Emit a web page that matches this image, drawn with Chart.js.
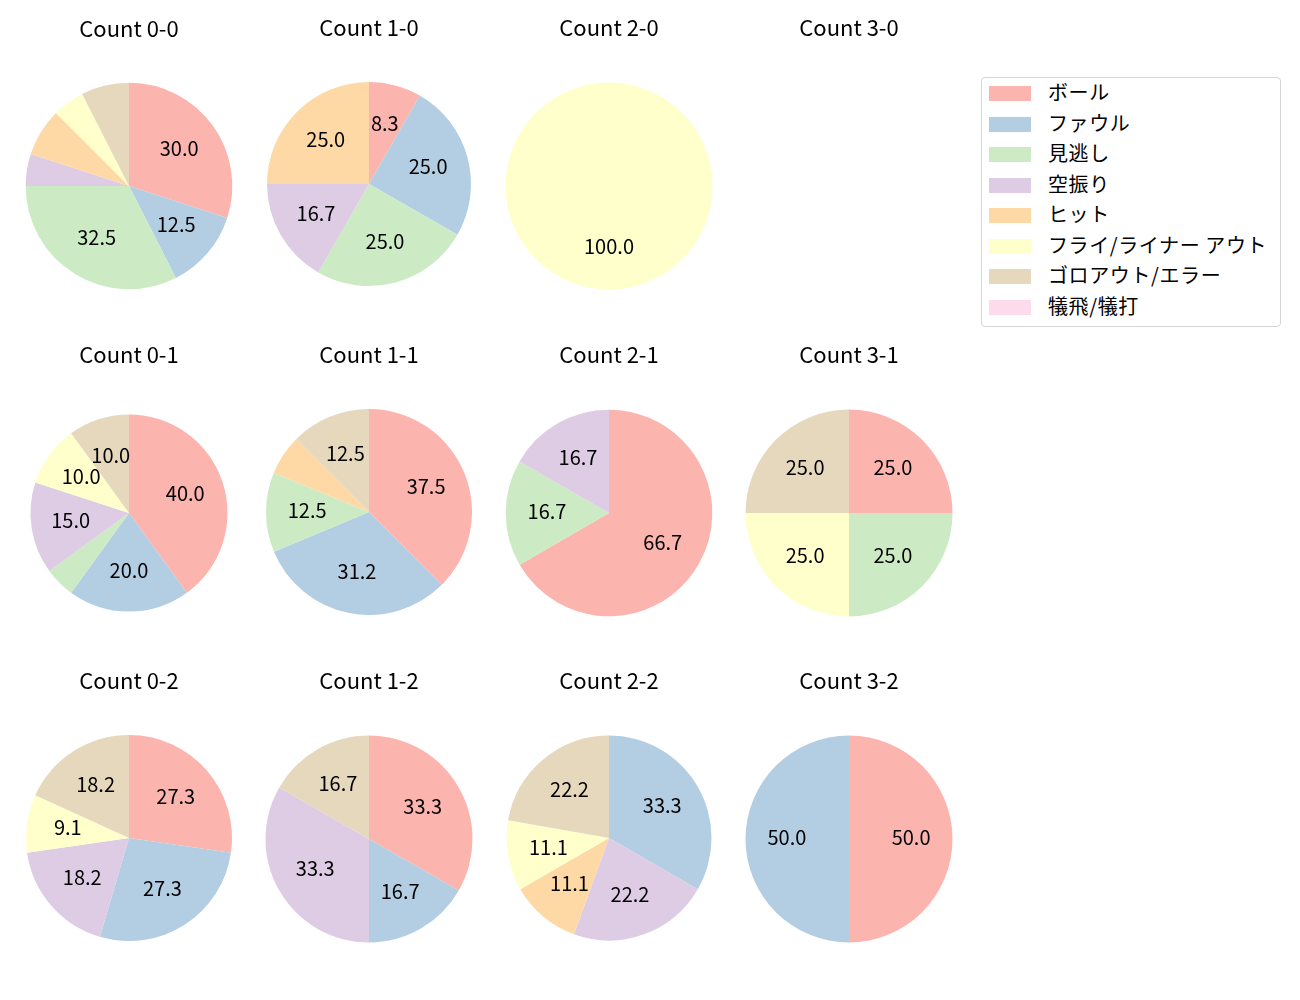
<!DOCTYPE html>
<html>
<head>
<meta charset="utf-8">
<script src="https://cdn.jsdelivr.net/npm/chart.js@4/dist/chart.umd.min.js"></script>
<style>
  body { margin: 0; background: #fff; font-family: "Noto Sans CJK JP", sans-serif; }
  #wrap { position: relative; width: 1300px; height: 1000px; }
  canvas.pie { position: absolute; }
  #legend { position: absolute; left: 981px; top: 77px; width: 298px; height: 248px;
            border: 1px solid #d5d5d5; border-radius: 4px; }
  .item { position: absolute; left: 0; height: 30px; font-size: 20px; line-height: 30px; color: #000; }
  .sw { position: absolute; left: 7px; top: 8px; width: 42px; height: 15px; }
  .lbl { position: absolute; left: 66px; top: -1px; white-space: nowrap; letter-spacing: 0.6px; }
</style>
</head>
<body>
<div id="wrap">
  <div id="legend"></div>
</div>
<script>
const categories = ["ボール", "ファウル", "見逃し", "空振り", "ヒット", "フライ/ライナー アウト", "ゴロアウト/エラー", "犠飛/犠打"];
const colors = ["#fbb4ae", "#b3cde3", "#ccebc5", "#decbe4", "#fed9a6", "#ffffcc", "#e5d8bd", "#fddaec"];

// percentages per count, same order as categories
const count00 = [30.0, 12.5, 32.5, 5.0, 7.5, 5.0, 7.5, 0];
const count10 = [8.3, 25.0, 25.0, 16.7, 25.0, 0, 0, 0];
const count20 = [0, 0, 0, 0, 0, 100.0, 0, 0];
const count30 = [0, 0, 0, 0, 0, 0, 0, 0];
const count01 = [40.0, 20.0, 5.0, 15.0, 0, 10.0, 10.0, 0];
const count11 = [37.5, 31.2, 12.5, 0, 6.3, 0, 12.5, 0];
const count21 = [66.7, 0, 16.7, 16.7, 0, 0, 0, 0];
const count31 = [25.0, 0, 25.0, 0, 0, 25.0, 25.0, 0];
const count02 = [27.3, 27.3, 0, 18.2, 0, 9.1, 18.2, 0];
const count12 = [33.3, 16.7, 0, 33.3, 0, 0, 16.7, 0];
const count22 = [0, 33.3, 0, 22.2, 11.1, 11.1, 22.2, 0];
const count32 = [50.0, 50.0, 0, 0, 0, 0, 0, 0];

const panels = [
  ["Count 0-0", count00], ["Count 1-0", count10], ["Count 2-0", count20], ["Count 3-0", count30],
  ["Count 0-1", count01], ["Count 1-1", count11], ["Count 2-1", count21], ["Count 3-1", count31],
  ["Count 0-2", count02], ["Count 1-2", count12], ["Count 2-2", count22], ["Count 3-2", count32]
];

// layout
const colX = [129, 368.5, 609, 849];
const rowY = [186, 512.5, 838.5];
const radii = [103.3, 102, 103.5, 103.5, 98.5, 103, 103.3, 103.5, 103, 103.5, 102.5, 103.5];
const yShift = [-0.5, -1.8, 0, 0, 0, -1, 0, 0, -0.5, 0, -0.5, 0];
const CW = 240, CH = 300, CY = 170;

// matplotlib-ish autopct labels + subplot title
const pieText = {
  id: "pieText",
  afterDatasetsDraw(chart, args, opts) {
    const c = chart.ctx;
    const data = chart.data.datasets[0].data;
    const meta = chart.getDatasetMeta(0);
    c.save();
    c.fillStyle = "#000";
    c.textAlign = "center";
    c.textBaseline = "middle";
    c.font = '20px "Noto Sans CJK JP"';
    meta.data.forEach((arc, i) => {
      const v = data[i];
      if (v < 8) return;
      const p = arc.getProps(["x", "y", "startAngle", "endAngle", "outerRadius"], true);
      const a = (p.startAngle + p.endAngle) / 2;
      const r = p.outerRadius * 0.6;
      c.fillText(v.toFixed(1), p.x + Math.cos(a) * r, p.y + Math.sin(a) * r - 1.5);
    });
    c.font = '22px "Noto Sans CJK JP"';
    c.fillText(opts.title, CW / 2, opts.titleY - 1);
    c.restore();
  }
};

const wrap = document.getElementById("wrap");

panels.forEach((pnl, k) => {
  const col = k % 4, row = Math.floor(k / 4);
  const cx = colX[col], cy = rowY[row] + yShift[k];
  const cv = document.createElement("canvas");
  cv.className = "pie";
  cv.width = CW;
  cv.height = CH;
  cv.style.left = (cx - CW / 2) + "px";
  cv.style.top = (cy - CY) + "px";
  wrap.appendChild(cv);

  new Chart(cv.getContext("2d"), {
    type: "pie",
    data: {
      labels: categories,
      datasets: [{
        data: pnl[1],
        backgroundColor: colors,
        borderWidth: 0
      }]
    },
    options: {
      responsive: false,
      animation: false,
      devicePixelRatio: 1,
      radius: radii[k],
      layout: { padding: { top: 2 * CY - CH, bottom: 0, left: 0, right: 0 } },
      plugins: {
        legend: { display: false },
        tooltip: { enabled: false },
        pieText: { title: pnl[0], titleY: rowY[row] - 157 - (cy - CY) }
      }
    },
    plugins: [pieText]
  });
});

// legend
const legend = document.getElementById("legend");
categories.forEach((name, i) => {
  const it = document.createElement("div");
  it.className = "item";
  it.style.top = (i * 30.57) + "px";
  it.innerHTML = '<div class="sw" style="background:' + colors[i] + '"></div><div class="lbl">' + name + '</div>';
  legend.appendChild(it);
});
</script>
</body>
</html>
